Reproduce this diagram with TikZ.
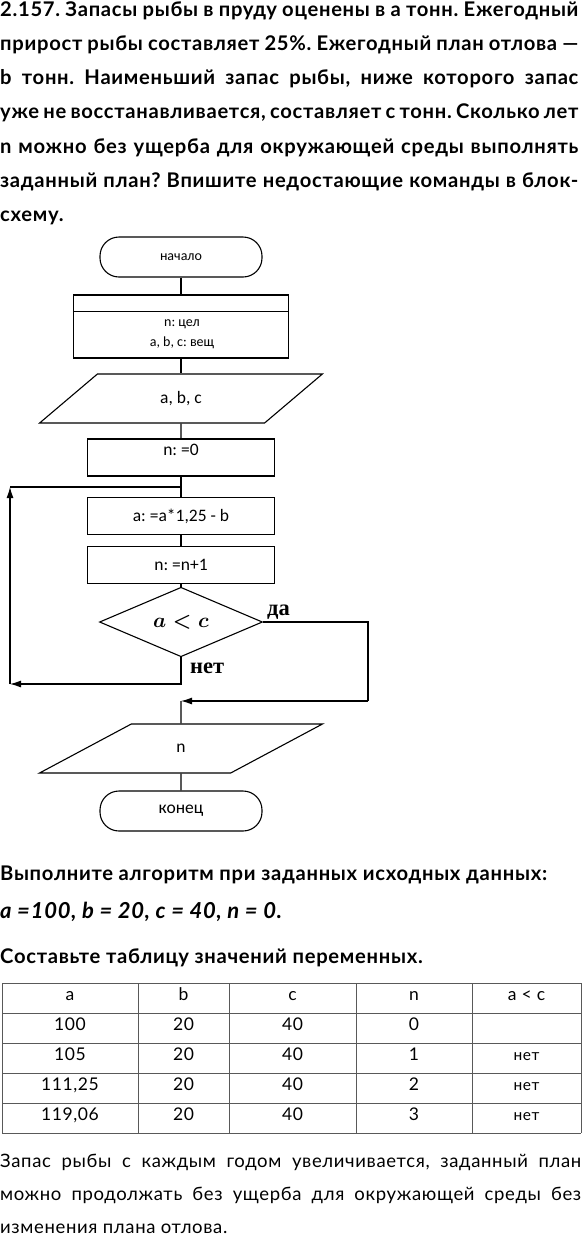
\documentclass[tikz,border=0pt]{standalone}
\usepackage{fontspec}
\setmainfont[LetterSpace=3.5]{Lato}
\newfontfamily\boxfont{Carlito}
\newfontfamily\labelfont{Liberation Serif}
\usetikzlibrary{shapes.geometric, arrows.meta, positioning}
\frenchspacing

\begin{document}
\begin{tikzpicture}[x=1pt, y=-1pt,
    line/.style={line width=1.1pt},
    paths/.style={line width=1.1pt, -{Latex[length=11pt, width=7pt]}},
    terminal/.style={draw, line width=1.1pt, rounded corners=19pt, minimum width=162pt, minimum height=40pt, inner sep=0pt, font=\boxfont\fontsize{14}{16}\selectfont},
    process/.style={draw, line width=1.1pt, rectangle, minimum width=187pt, minimum height=37pt, inner sep=0pt, font=\boxfont\fontsize{17.5}{20}\selectfont},
    io/.style={draw, line width=1.1pt, trapezium, trapezium left angle=45, trapezium right angle=135, trapezium stretches=true, minimum width=283pt, minimum height=49pt, inner sep=0pt, font=\boxfont\fontsize{17.5}{20}\selectfont},
    decision/.style={draw, diamond, line width=1.1pt, minimum width=163pt, minimum height=62pt, inner sep=0pt, font=\boldmath\fontsize{22}{24}\selectfont},
    branch/.style={anchor=base west, inner sep=0pt, font=\labelfont\bfseries\fontsize{22.5}{24}\selectfont},
    heading/.style={anchor=base west, inner sep=0pt, font=\bfseries\fontsize{20.2}{24}\selectfont},
    plain/.style={anchor=base west, inner sep=0pt, font=\fontsize{18.5}{22}\selectfont},
    grid/.style={line width=0.8pt, draw=black!65},
    cell/.style={inner sep=0pt, text height=0.72em, text depth=0.2em, font=\fontsize{17.5}{20}\selectfont},
    small/.style={font=\fontsize{15.5}{18}\selectfont}
]
    % Task text
    \node[heading] (t1) at (0,16)    {\makebox[578pt][s]{2.157. Запасы рыбы в пруду оценены в a тонн. Ежегодный}};
    \node[heading] (t2) at (0,50)    {\makebox[578pt][s]{прирост рыбы составляет 25\%. Ежегодный план отлова —}};
    \node[heading] (t3) at (0,84.5)  {\makebox[578pt][s]{b тонн. Наименьший запас рыбы, ниже которого запас}};
    \node[heading] (t4) at (0,118.5) {\makebox[578pt][s]{уже не восстанавливается, составляет c тонн. Сколько лет}};
    \node[heading] (t5) at (0,153)   {\makebox[578pt][s]{n можно без ущерба для окружающей среды выполнять}};
    \node[heading] (t6) at (0,187)   {\makebox[578pt][s]{заданный план? Впишите недостающие команды в блок-}};
    \node[heading] (t7) at (0,221)   {схему.};

    % Flowchart nodes
    \node[terminal] (start) at (181,257) {начало};
    \node[draw, line width=1.1pt, minimum width=215pt, minimum height=63pt, inner sep=0pt] (decl) at (181,326.5) {};
    \draw[line] ([yshift=-17pt]decl.north west) -- ([yshift=-17pt]decl.north east);
    \node[align=center, inner sep=0pt, font=\boxfont\fontsize{14}{20}\selectfont] (declText) at (182,334) {n: цел\\a, b, c: вещ};
    \node[io] (input) at (181,398.5) {a, b, c};
    \node[process, text depth=15pt] (init) at (181,457.5) {n: =0};
    \node[process] (upd) at (181,516) {a: =a*1,25 - b};
    \node[process] (count) at (181,565) {n: =n+1};
    \node[decision] (dec) at (181,622) {$a < c$};
    \node[io] (output) at (181,748.5) {n};
    \node[terminal, font=\boxfont\fontsize{17.5}{20}\selectfont] (stop) at (181,811) {конец};

    % Loop corners
    \coordinate (jn) at (181,487);
    \coordinate (loopT) at (10,487);
    \coordinate (loopB) at (10,684);
    \coordinate (loopR) at (368,701);
    \coordinate (retY) at (181,701);

    % Paths: main line
    \draw[line] (start) -- (decl);
    \draw[line] (decl) -- (input);
    \draw[line] (input) -- (init);
    \draw[line] (init) -- (upd);
    \draw[line] (upd) -- (count);
    \draw[line] (count) -- (dec);
    \draw[line] (output) -- (stop);

    % Paths: branches
    \draw[paths] (dec.south) |- (loopB);
    \draw[paths] (loopB) -- (loopT);
    \draw[line] (loopT) -- (jn);
    \draw[line] (dec.east) -| (loopR);
    \draw[paths] (loopR) -- (retY);
    \draw[line] (retY) -- (output);
    \node[branch] (yes) at (267,615) {да};
    \node[branch] (no) at (190,673) {нет};

    % Exercise text
    \node[heading] (q1) at (0,880) {Выполните алгоритм при заданных исходных данных:};
    \node[heading, font=\bfseries\itshape\fontsize{22}{24}\selectfont] (q2) at (0,918) {a =100, b = 20, c = 40, n = 0.};
    \node[heading] (q3) at (0,963) {Составьте таблицу значений переменных.};

    % Table
    \foreach \x in {2,138,229,356,472,581}
        \draw[grid] (\x,983) -- (\x,1133);
    \foreach \y in {983,1013,...,1133}
        \draw[grid] (2,\y) -- (581,\y);
    \node[cell] (a1) at (70,998) {a};
    \node[cell] (b1) at (183.5,998) {b};
    \node[cell] (c1) at (292.5,998) {c};
    \node[cell] (n1) at (414,998) {n};
    \node[cell] (r1) at (526.5,998) {a < c};
    \foreach \r/\va/\vn/\vr in {2/100/0/{}, 3/105/1/нет, 4/{111,25}/2/нет, 5/{119,06}/3/нет} {
        \pgfmathsetmacro{\ry}{983+30*\r-15}
        \node[cell] (a\r) at (70,\ry) {\va};
        \node[cell] (b\r) at (183.5,\ry) {20};
        \node[cell] (c\r) at (292.5,\ry) {40};
        \node[cell] (n\r) at (414,\ry) {\vn};
        \node[cell, small] (r\r) at (526.5,\ry) {\vr};
    }

    % Answer text
    \node[plain] (s1) at (0,1167) {\makebox[581pt][s]{Запас рыбы с каждым годом увеличивается, заданный план}};
    \node[plain] (s2) at (0,1200) {\makebox[581pt][s]{можно продолжать без ущерба для окружающей среды без}};
    \node[plain] (s3) at (0,1233) {изменения плана отлова.};

    \useasboundingbox (0,0) rectangle (582,1235);
\end{tikzpicture}
\end{document}
